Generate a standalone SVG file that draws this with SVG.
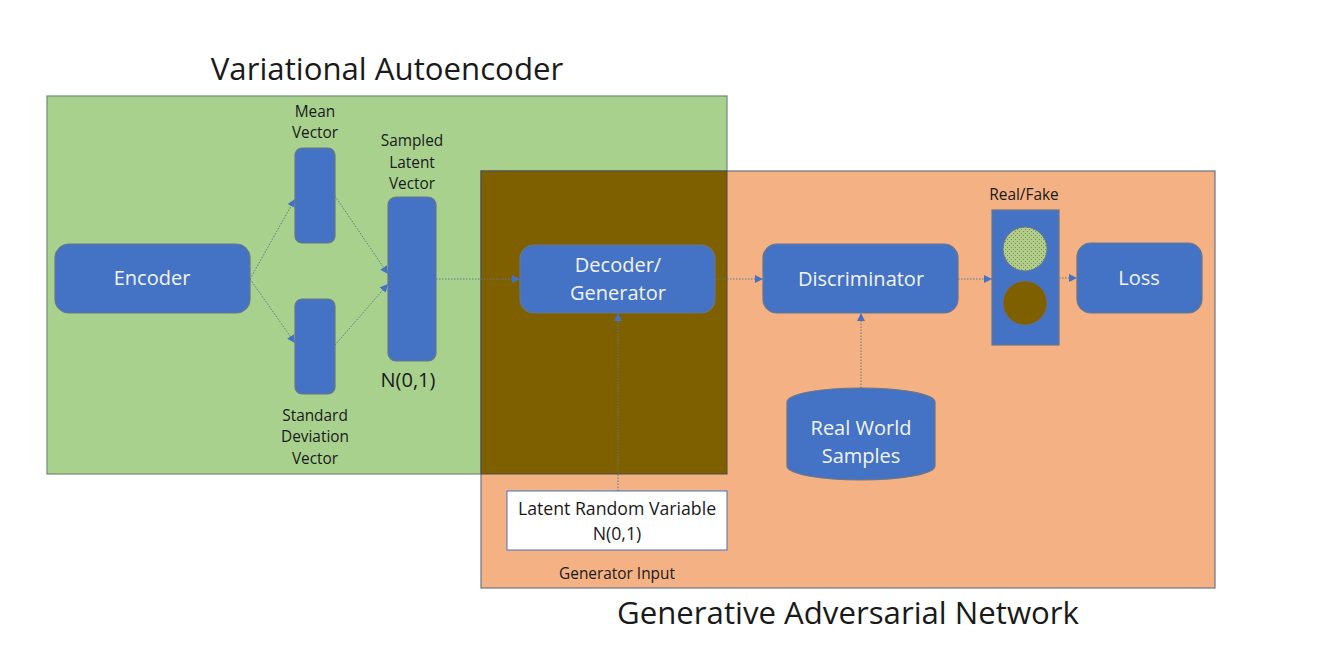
<svg xmlns="http://www.w3.org/2000/svg" width="1336" height="672" viewBox="0 0 1336 672">
<style>
text{font-family:"Open Sans","Noto Sans","Liberation Sans",sans-serif;text-anchor:middle;fill:#1a1a1a}
.t{font-size:31.2px}
.s{font-size:15.4px}
.m{font-size:20px}
.l{font-size:17.7px}
.w{font-size:20px;fill:#f2f5fb}
.b{fill:#4472C4;stroke:#6b7686;stroke-width:1.2}
.c{fill:none;stroke:#5b7a8c;stroke-width:1;stroke-dasharray:1.5 1.5;marker-end:url(#a)}
</style>
<defs>
<marker id="a" markerUnits="userSpaceOnUse" markerWidth="9" markerHeight="8" refX="8" refY="4" orient="auto"><path d="M0 0L8 4L0 8z" fill="#4472C4"/></marker>
<pattern id="d" width="4" height="4" patternUnits="userSpaceOnUse"><rect width="4" height="4" fill="#A9D18E"/><rect x="1" y="1" width="1" height="1" fill="#b5763a"/><rect x="3" y="3" width="1" height="1" fill="#b5763a"/></pattern>
</defs>
<rect width="1336" height="672" fill="#fff"/>
<g id="regions">
<rect id="vae-region" x="47" y="96" width="680" height="378" fill="#A9D18E" stroke="#6f8a78" stroke-width="1.2"/>
<rect id="gan-region" x="481" y="171" width="734" height="417" fill="#F4B183" stroke="#6b7686" stroke-width="1.2"/>
<rect id="overlap" x="481" y="171" width="246" height="303" fill="#7F6000" stroke="#4a4a4a" stroke-width="1"/>
</g>
<text class="t" x="387" y="80">Variational Autoencoder</text>
<text class="t" x="848" y="624">Generative Adversarial Network</text>
<g id="connectors">
<path class="c" d="M250 279L295 199"/>
<path class="c" d="M250 279L295 343"/>
<path class="c" d="M335 196L388 274"/>
<path class="c" d="M335 345L388 284"/>
<path class="c" d="M436 279L520 279"/>
<path class="c" d="M715 279L763 279"/>
<path class="c" d="M958 279L992 279"/>
<path class="c" d="M1059 278L1077 278"/>
<path class="c" d="M861 388L861 313"/>
<path class="c" d="M618 491L618 313"/>
</g>
<g id="encoder"><rect class="b" x="55" y="244" width="195" height="69" rx="14"/><text class="w" x="152" y="285">Encoder</text></g>
<g id="mean-vector"><rect class="b" x="295" y="148" width="40" height="95" rx="7"/><text class="s" x="315" y="117">Mean</text><text class="s" x="315" y="138">Vector</text></g>
<g id="std-vector"><rect class="b" x="295" y="299" width="40" height="95" rx="7"/><text class="s" x="315" y="421">Standard</text><text class="s" x="315" y="442">Deviation</text><text class="s" x="315" y="464">Vector</text></g>
<g id="sampled-vector"><rect class="b" x="388" y="197" width="48" height="164" rx="8"/><text class="s" x="412" y="146">Sampled</text><text class="s" x="412" y="168">Latent</text><text class="s" x="412" y="189">Vector</text><text class="m" x="408" y="387">N(0,1)</text></g>
<g id="decoder"><rect class="b" x="520" y="245" width="195" height="68" rx="14"/><text class="w" x="618" y="272">Decoder/</text><text class="w" x="618" y="300">Generator</text></g>
<g id="discriminator"><rect class="b" x="763" y="244" width="195" height="69" rx="14"/><text class="w" x="861" y="286">Discriminator</text></g>
<g id="real-fake"><rect class="b" x="992" y="210" width="67" height="135"/><circle cx="1025" cy="249" r="22" fill="url(#d)" stroke="#6b7686"/><circle cx="1025" cy="303" r="22" fill="#7F6000" stroke="#6b7686" stroke-width=".6"/><text class="s" x="1024" y="200">Real/Fake</text></g>
<g id="loss"><rect class="b" x="1077" y="243" width="125" height="70" rx="14"/><text class="w" x="1139" y="285">Loss</text></g>
<g id="real-world"><path class="b" d="M787 402A74 14 0 0 1 935 402V466A74 14 0 0 1 787 466Z"/><text class="w" x="861" y="435">Real World</text><text class="w" x="861" y="463">Samples</text></g>
<g id="latent-random"><rect x="507" y="491" width="220" height="59" fill="#fff" stroke="#4472C4" stroke-width="1"/><text class="l" x="617" y="515">Latent Random Variable</text><text class="l" x="617" y="540">N(0,1)</text><text class="s" x="617" y="579">Generator Input</text></g>
</svg>
